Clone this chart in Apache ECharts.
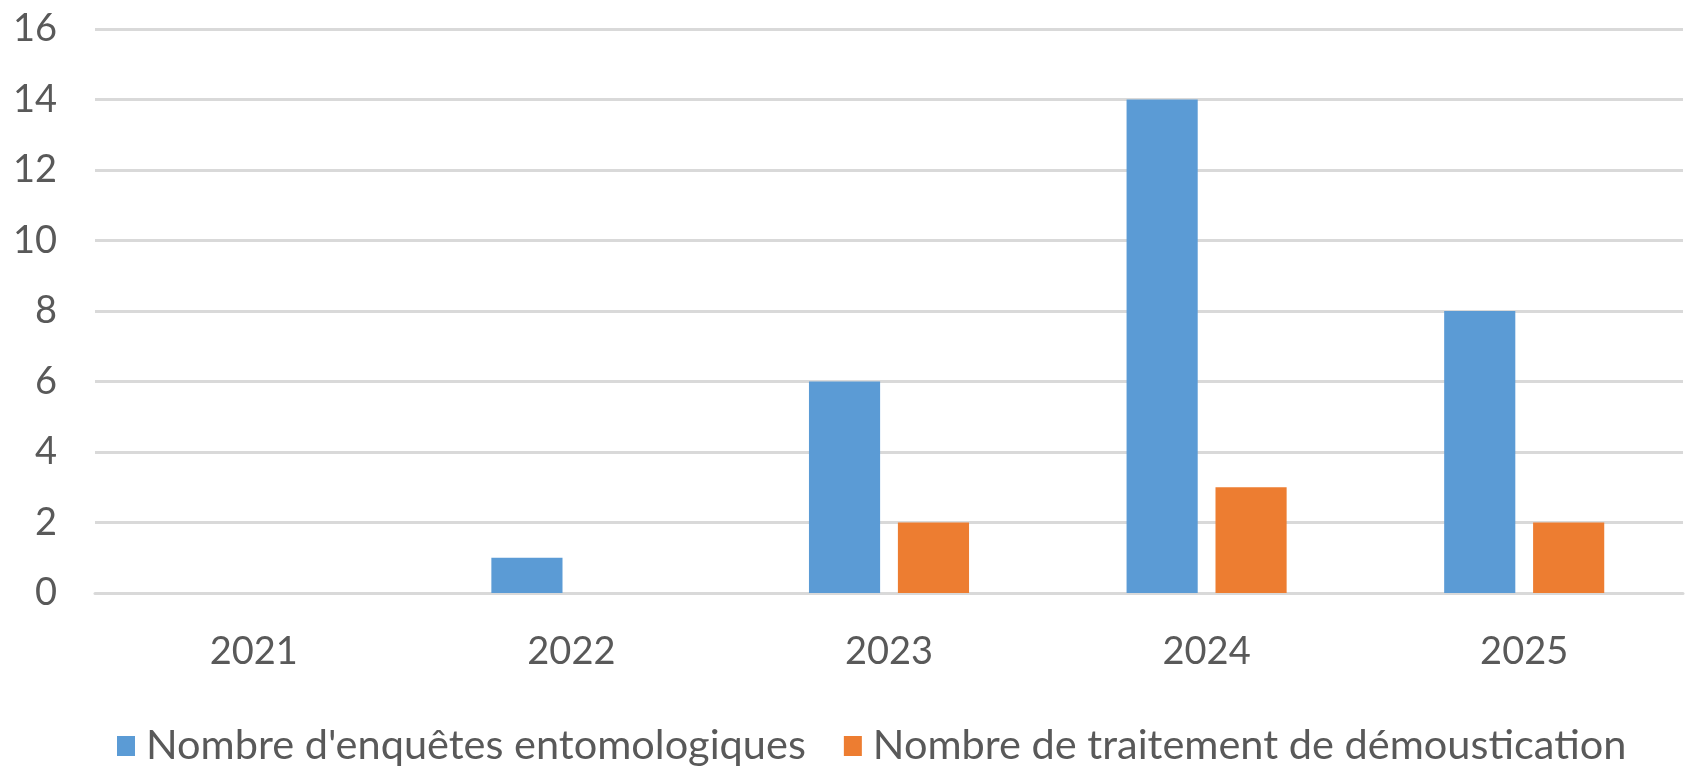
<!DOCTYPE html>
<html>
<head>
<meta charset="utf-8">
<script src="https://cdn.jsdelivr.net/npm/echarts@6/dist/echarts.min.js"></script>
<style>html,body{margin:0;padding:0;background:#fff;}#c{width:1687px;height:768px;}</style>
</head>
<body>
<div id="c"></div>
<script>
const categories = ['2021', '2022', '2023', '2024', '2025'];
const enquetes = [0, 1, 6, 14, 8];
const traitements = [0, 0, 2, 3, 2];
const seriesNames = ["Nombre d'enquêtes entomologiques", "Nombre de traitement de démoustication"];
const yTicks = { min: 0, max: 16, interval: 2 };

const FONT = 'Lato, "Open Sans", sans-serif';
const chart = echarts.init(document.getElementById('c'));
chart.setOption({
  animation: false,
  backgroundColor: '#ffffff',
  grid: { left: 95, right: 4, top: 29, bottom: 175, containLabel: false },
  legend: {
    left: 112, top: 720,
    itemWidth: 18, itemHeight: 20, itemGap: 38,
    icon: 'rect',
    textStyle: { fontFamily: FONT, fontSize: 41.5, color: '#595959', padding: [0, 0, 0, 6] },
    data: seriesNames
  },
  xAxis: {
    type: 'category',
    data: categories,
    axisLine: { show: true, lineStyle: { color: '#D9D9D9', width: 3 } },
    axisTick: { show: false },
    axisLabel: { fontFamily: FONT, fontSize: 38, color: '#595959', margin: 40 }
  },
  yAxis: {
    type: 'value',
    min: yTicks.min, max: yTicks.max, interval: yTicks.interval,
    axisLine: { show: false },
    axisTick: { show: false },
    splitLine: { lineStyle: { color: '#D9D9D9', width: 3 } },
    axisLabel: { fontFamily: FONT, fontSize: 38, color: '#595959', margin: 38 }
  },
  series: [
    { name: seriesNames[0], type: 'bar', data: enquetes, barWidth: '22.4%', barGap: '25%',
      itemStyle: { color: '#5B9BD5' } },
    { name: seriesNames[1], type: 'bar', data: traitements, barWidth: '22.4%', barGap: '25%',
      itemStyle: { color: '#ED7D31' } }
  ]
});
</script>
</body>
</html>
